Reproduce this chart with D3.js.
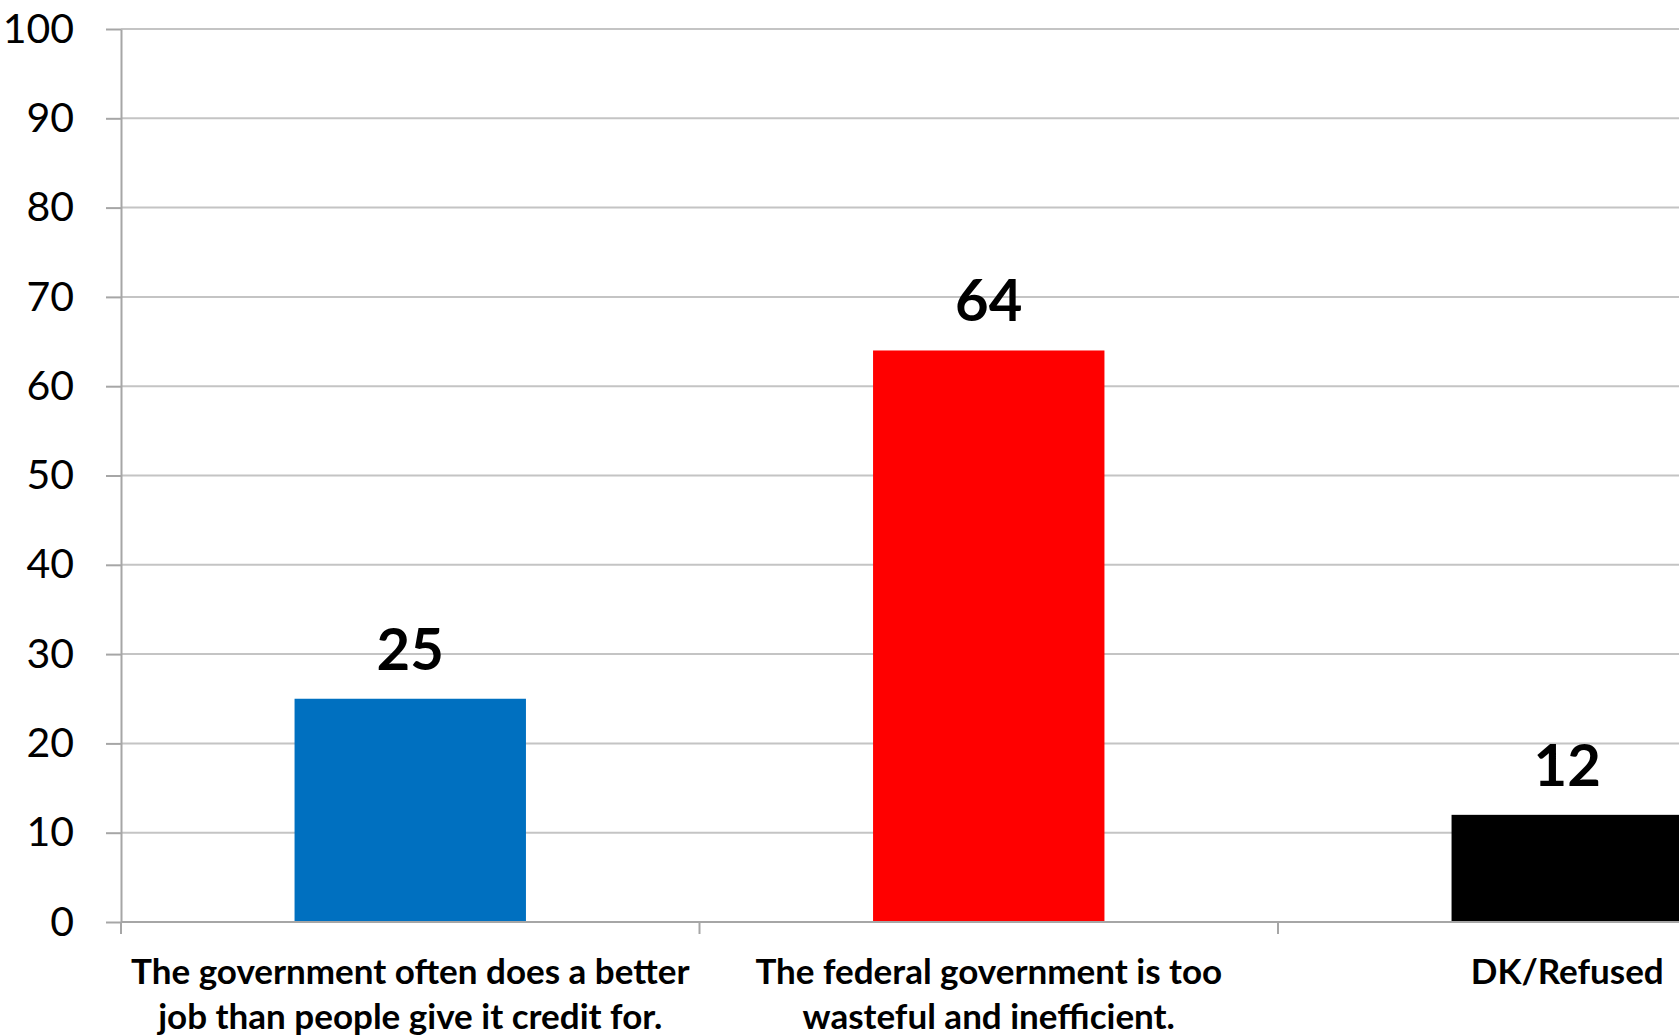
<!DOCTYPE html>
<html>
<head>
<meta charset="utf-8">
<script src="https://cdn.jsdelivr.net/npm/d3@7"></script>
<style>
    html, body { margin: 0; padding: 0; background: #fff; }
    svg { display: block; font-family: Lato, 'Open Sans', sans-serif; }
</style>
</head>
<body>
<svg width="1679" height="1036"></svg>
<script>
const CATEGORIES = [
    'The government often does a better job than people give it credit for.',
    'The federal government is too wasteful and inefficient.',
    'DK/Refused'
];
const LABEL_LINES = [
    ['The government often does a better', 'job than people give it credit for.'],
    ['The federal government is too', 'wasteful and inefficient.'],
    ['DK/Refused']
];
const VALUES = [25, 64, 12];
const COLORS = ['#0070C0', '#FF0000', '#000000'];
const Y_TICKS = [0, 10, 20, 30, 40, 50, 60, 70, 80, 90, 100];

const svg = d3.select('svg');
const left = 121;
const step = 578.5;

const x = d3.scaleBand()
    .domain(CATEGORIES)
    .range([left, left + step * CATEGORIES.length])
    .paddingInner(0.6)
    .paddingOuter(0.3);

const y = d3.scaleLinear()
    .domain([0, 100])
    .range([922, 29]);

// gridlines
svg.append('g')
    .selectAll('line')
    .data(Y_TICKS.filter(d => d > 0))
    .enter()
    .append('line')
    .attr('x1', left)
    .attr('x2', 1679)
    .attr('y1', d => y(d))
    .attr('y2', d => y(d))
    .attr('stroke', '#c4c4c4')
    .attr('stroke-width', 2);

// bars
svg.append('g')
    .selectAll('rect')
    .data(VALUES)
    .enter()
    .append('rect')
    .attr('x', (d, i) => x(CATEGORIES[i]))
    .attr('y', d => y(d))
    .attr('width', x.bandwidth())
    .attr('height', d => y(0) - y(d))
    .attr('fill', (d, i) => COLORS[i]);

// value labels
svg.append('g')
    .selectAll('text')
    .data(VALUES)
    .enter()
    .append('text')
    .attr('x', (d, i) => x(CATEGORIES[i]) + x.bandwidth() / 2)
    .attr('y', d => y(d) - 29)
    .attr('text-anchor', 'middle')
    .style('font-size', '58px')
    .style('font-weight', 'bold')
    .text(d => d);

// y axis
const yAxis = d3.axisLeft(y)
    .tickValues(Y_TICKS)
    .tickSize(15)
    .tickSizeOuter(0)
    .tickPadding(32);

const yG = svg.append('g')
    .attr('transform', `translate(${left}, 0)`)
    .call(yAxis);
yG.select('.domain').attr('stroke', '#a6a6a6').attr('stroke-width', 2);
yG.selectAll('.tick line').attr('stroke', '#a6a6a6').attr('stroke-width', 2);
yG.selectAll('.tick text')
    .attr('fill', '#000')
    .style('font-size', '41px')
    .style('font-family', 'Lato, sans-serif');

// x axis line and boundary ticks
svg.append('line')
    .attr('x1', left)
    .attr('x2', 1679)
    .attr('y1', y(0))
    .attr('y2', y(0))
    .attr('stroke', '#a6a6a6')
    .attr('stroke-width', 2);

svg.append('g')
    .selectAll('line')
    .data(d3.range(CATEGORIES.length + 1))
    .enter()
    .append('line')
    .attr('x1', i => left + x.step() * i)
    .attr('x2', i => left + x.step() * i)
    .attr('y1', y(0))
    .attr('y2', y(0) + 12)
    .attr('stroke', '#a6a6a6')
    .attr('stroke-width', 2);

// category labels
const labels = svg.append('g')
    .selectAll('text')
    .data(LABEL_LINES)
    .enter()
    .append('text')
    .attr('text-anchor', 'middle')
    .style('font-size', '35px')
    .style('font-weight', 'bold');

labels.selectAll('tspan')
    .data((d, i) => d.map(line => ({ line, i })))
    .enter()
    .append('tspan')
    .attr('x', d => x(CATEGORIES[d.i]) + x.bandwidth() / 2)
    .attr('y', (d, j) => 984 + j * 45)
    .text(d => d.line);
</script>
</body>
</html>
